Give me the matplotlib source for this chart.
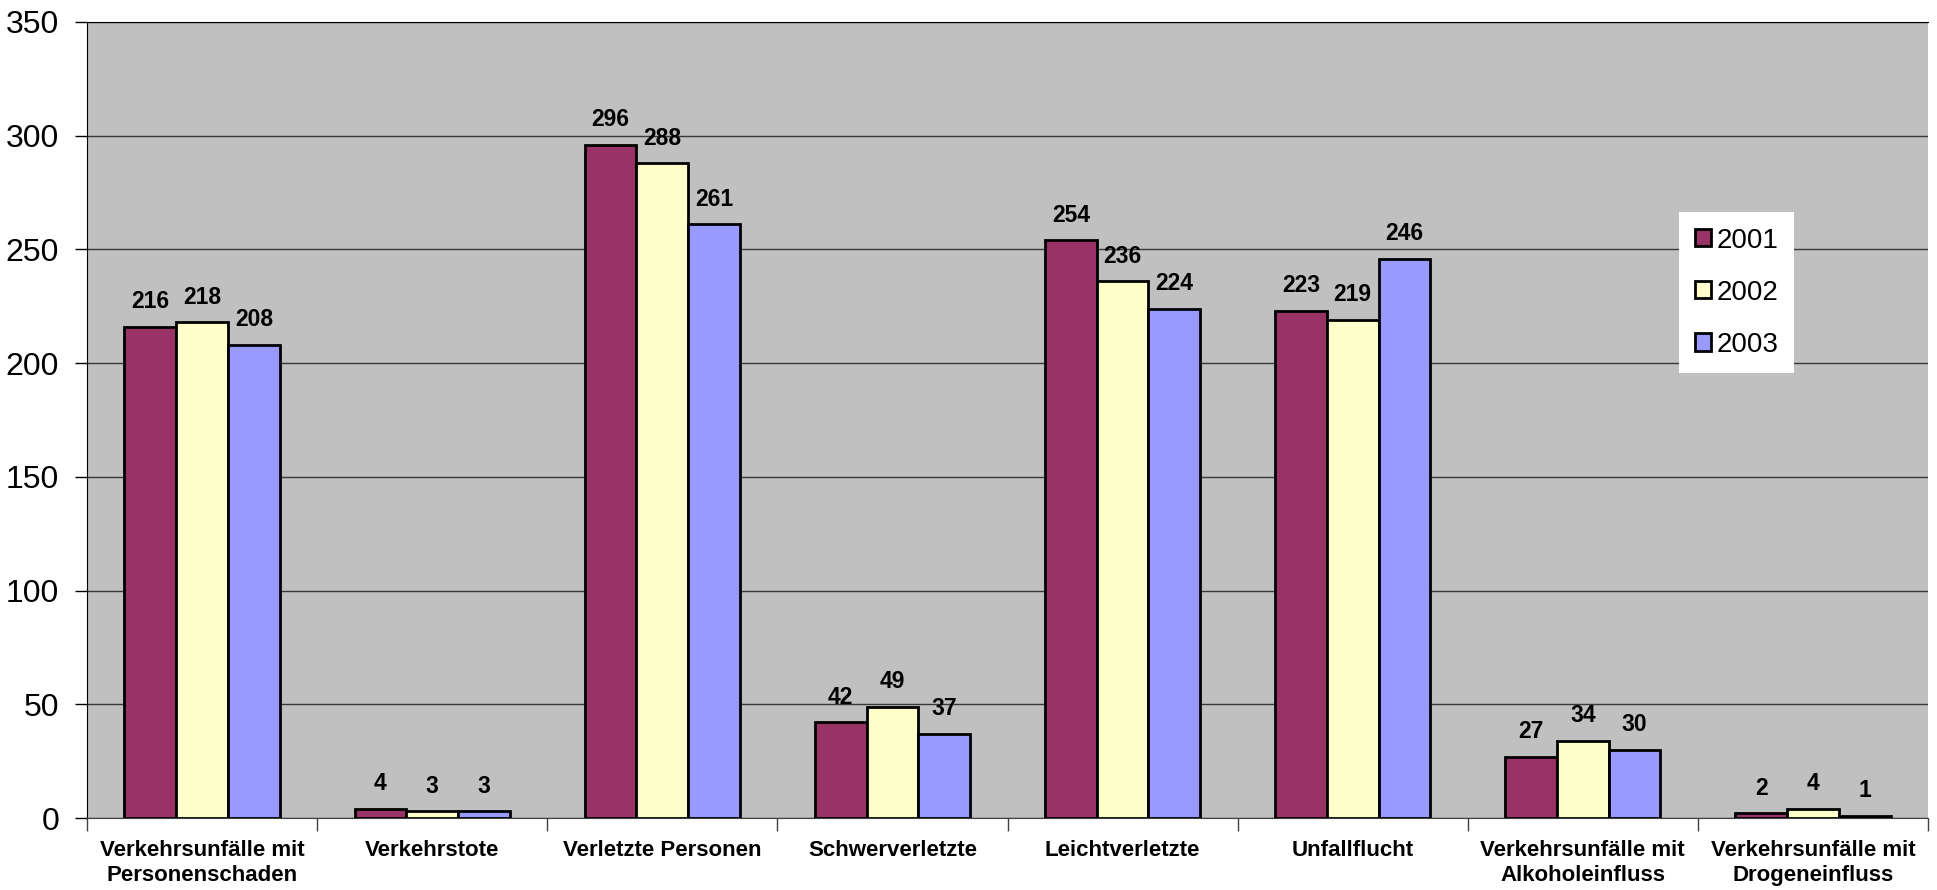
import matplotlib
matplotlib.use("Agg")
import matplotlib.pyplot as plt
from matplotlib import font_manager
import numpy as np

# data
categories = ["Verkehrsunfälle mit\nPersonenschaden", "Verkehrstote", "Verletzte Personen",
              "Schwerverletzte", "Leichtverletzte", "Unfallflucht",
              "Verkehrsunfälle mit\nAlkoholeinfluss", "Verkehrsunfälle mit\nDrogeneinfluss"]
years = ["2001", "2002", "2003"]
v2001 = [216, 4, 296, 42, 254, 223, 27, 2]
v2002 = [218, 3, 288, 49, 236, 219, 34, 4]
v2003 = [208, 3, 261, 37, 224, 246, 30, 1]
colors = ["#993366", "#FFFFCC", "#9999FF"]

names = {f.name for f in font_manager.fontManager.ttflist}
narrow = "Liberation Sans Narrow" if "Liberation Sans Narrow" in names else "Liberation Sans"

fig = plt.figure(figsize=(19.37, 8.90), dpi=100)
ax = fig.add_axes([87 / 1937, 1 - 818 / 890, 1841 / 1937, 796 / 890])
ax.set_facecolor("#C0C0C0")

x = np.arange(len(categories))
w = 0.225
for i, (vals, yr, c) in enumerate(zip([v2001, v2002, v2003], years, colors)):
    bars = ax.bar(x + (i - 1) * w, vals, w, color=c, edgecolor="black", linewidth=2,
                  label=yr, zorder=3)
    for b, v in zip(bars, vals):
        ax.annotate(str(v), (b.get_x() + b.get_width() / 2, v), xytext=(0, 18),
                    textcoords="offset points", ha="center", va="center",
                    fontsize=16.5, fontweight="bold", family=narrow, zorder=4)

ax.set_ylim(0, 350)
ax.set_xlim(-0.5, len(categories) - 0.5)
ax.set_yticks(np.arange(0, 351, 50))
ax.yaxis.grid(True, color="#383838", linewidth=1)
ax.set_axisbelow(True)

ax.set_xticks(x)
ax.set_xticklabels(categories, fontsize=16, fontweight="bold", family=narrow, linespacing=1.25)
ax.set_xticks(np.arange(-0.5, len(categories)), minor=True)
ax.tick_params(axis="x", which="major", length=0, pad=16)
ax.tick_params(axis="x", which="minor", length=9, width=1, color="#404040")
ax.tick_params(axis="y", length=9, width=1, pad=11, labelsize=23)
for lab in ax.get_yticklabels():
    lab.set_family("Liberation Sans")

ax.spines["right"].set_visible(False)
ax.spines["left"].set_color("black")
ax.spines["bottom"].set_color("#404040")
ax.spines["top"].set_color("black")

leg = ax.legend(loc="upper left", bbox_to_anchor=(0.865, 0.761), borderaxespad=0,
                prop={"family": "Liberation Sans", "size": 20}, frameon=True,
                fancybox=False, edgecolor="none", facecolor="white", framealpha=1,
                handlelength=0.58, handleheight=0.58, handletextpad=0.2,
                labelspacing=0.94, borderpad=0.55)

fig.savefig("out.png", dpi=100)
